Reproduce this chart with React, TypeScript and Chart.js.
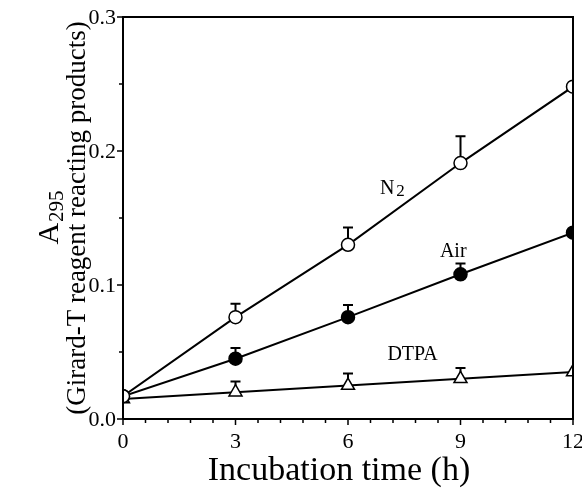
import React, { useEffect, useRef } from 'react';
import { Chart, registerables } from 'chart.js';

Chart.register(...registerables);

// ---- data ----
const times = [0, 3, 6, 9, 12];
const n2Values = [0.017, 0.076, 0.13, 0.191, 0.248];
const n2Errors = [0, 0.01, 0.013, 0.02, 0];
const airValues = [0.017, 0.045, 0.076, 0.108, 0.139];
const airErrors = [0, 0.008, 0.009, 0.008, 0];
const dtpaValues = [0.015, 0.02, 0.025, 0.03, 0.035];
const dtpaErrors = [0, 0.008, 0.009, 0.008, 0];

const xMajorTicks = [0, 3, 6, 9, 12];
const xTickLabels = ['0', '3', '6', '9', '12'];
const xMinorTicks = [0.6, 1.2, 1.8, 2.4, 3.6, 4.2, 4.8, 5.4, 6.6, 7.2, 7.8, 8.4, 9.6, 10.2, 10.8, 11.4];
const yMajorTicks = [0, 0.1, 0.2, 0.3];
const yTickLabels = ['0.0', '0.1', '0.2', '0.3'];
const yMinorTicks = [0.05, 0.15, 0.25];

const seriesLabels = [
  { main: 'N', sub: '2', x: 6.85, y: 0.172 },
  { main: 'Air', sub: '', x: 8.45, y: 0.125 },
  { main: 'DTPA', sub: '', x: 7.05, y: 0.048 },
];

const xTitle = 'Incubation time (h)';
const yTitleMain = 'A';
const yTitleSub = '295';
const yTitleLine2 = '(Girard-T reagent reacting products)';

const SERIF = '"Liberation Serif", "Times New Roman", serif';

const errorBarPlugin = {
  id: 'errorBars',
  beforeDatasetsDraw(chart: any) {
    const { ctx, scales } = chart;
    const xs = scales.x;
    const ys = scales.y;
    const sets = [
      { v: n2Values, e: n2Errors },
      { v: airValues, e: airErrors },
      { v: dtpaValues, e: dtpaErrors },
    ];
    ctx.save();
    ctx.strokeStyle = '#000';
    ctx.lineWidth = 2;
    sets.forEach((s) => {
      times.forEach((t, i) => {
        if (!s.e[i]) return;
        const px = xs.getPixelForValue(t);
        const y0 = ys.getPixelForValue(s.v[i]);
        const y1 = ys.getPixelForValue(s.v[i] + s.e[i]);
        ctx.beginPath();
        ctx.moveTo(px, y0);
        ctx.lineTo(px, y1);
        ctx.moveTo(px - 5, y1);
        ctx.lineTo(px + 5, y1);
        ctx.stroke();
      });
    });
    ctx.restore();
  },
};

const framePlugin = {
  id: 'frameAndText',
  afterDraw(chart: any) {
    const { ctx, chartArea, scales } = chart;
    const xs = scales.x;
    const ys = scales.y;
    const { left, right, top, bottom } = chartArea;
    ctx.save();
    ctx.strokeStyle = '#000';
    ctx.fillStyle = '#000';
    ctx.lineWidth = 2;
    // frame
    ctx.beginPath();
    ctx.moveTo(left, bottom);
    ctx.lineTo(left, top);
    ctx.lineTo(right, top);
    ctx.lineTo(right, bottom);
    ctx.lineTo(left, bottom);
    ctx.stroke();
    // ticks
    ctx.lineWidth = 1.5;
    ctx.beginPath();
    yMajorTicks.forEach((v) => {
      const py = ys.getPixelForValue(v);
      ctx.moveTo(left, py);
      ctx.lineTo(left - 6, py);
    });
    yMinorTicks.forEach((v) => {
      const py = ys.getPixelForValue(v);
      ctx.moveTo(left, py);
      ctx.lineTo(left - 4, py);
    });
    xMajorTicks.forEach((v) => {
      const px = xs.getPixelForValue(v);
      ctx.moveTo(px, bottom);
      ctx.lineTo(px, bottom + 6);
    });
    xMinorTicks.forEach((v) => {
      const px = xs.getPixelForValue(v);
      ctx.moveTo(px, bottom);
      ctx.lineTo(px, bottom + 4);
    });
    ctx.stroke();

    // tick labels
    ctx.font = `22px ${SERIF}`;
    ctx.textAlign = 'right';
    ctx.textBaseline = 'middle';
    yMajorTicks.forEach((v, i) => {
      ctx.fillText(yTickLabels[i], left - 7, ys.getPixelForValue(v) + 1);
    });
    ctx.textAlign = 'center';
    ctx.textBaseline = 'alphabetic';
    xMajorTicks.forEach((v, i) => {
      ctx.fillText(xTickLabels[i], xs.getPixelForValue(v), bottom + 29);
    });

    // x title
    ctx.font = `34px ${SERIF}`;
    ctx.textAlign = 'center';
    ctx.fillText(xTitle, 339, 480);

    // y title
    ctx.save();
    ctx.translate(0, (top + bottom) / 2);
    ctx.rotate(-Math.PI / 2);
    ctx.font = `27px ${SERIF}`;
    ctx.textAlign = 'center';
    ctx.fillText(yTitleLine2, 0, 85);
    ctx.font = `30px ${SERIF}`;
    const wA = ctx.measureText(yTitleMain).width;
    ctx.font = `21px ${SERIF}`;
    const wS = ctx.measureText(yTitleSub).width;
    const start = -(wA + wS) / 2;
    ctx.textAlign = 'left';
    ctx.font = `30px ${SERIF}`;
    ctx.fillText(yTitleMain, start, 58);
    ctx.font = `21px ${SERIF}`;
    ctx.fillText(yTitleSub, start + wA + 1, 63);
    ctx.restore();

    // series labels
    ctx.textBaseline = 'middle';
    seriesLabels.forEach((l) => {
      const px = xs.getPixelForValue(l.x);
      const py = ys.getPixelForValue(l.y);
      ctx.textAlign = 'left';
      ctx.font = `20px ${SERIF}`;
      ctx.fillText(l.main, px, py);
      if (l.sub) {
        const w = ctx.measureText(l.main).width;
        ctx.font = `17px ${SERIF}`;
        ctx.fillText(l.sub, px + w + 2, py + 3);
      }
    });
    ctx.restore();
  },
};

export default function App() {
  const ref = useRef<HTMLCanvasElement | null>(null);
  useEffect(() => {
    document.body.style.margin = '0';
    const canvas = ref.current;
    if (!canvas) return;
    const mk = (vals: number[]) => times.map((t, i) => ({ x: t, y: vals[i] }));
    const chart = new Chart(canvas, {
      type: 'line',
      data: {
        datasets: [
          {
            label: 'N2',
            data: mk(n2Values),
            borderColor: '#000',
            borderWidth: 2,
            pointStyle: 'circle',
            pointRadius: 6.5,
            pointBackgroundColor: '#fff',
            pointBorderColor: '#000',
            pointBorderWidth: 1.5,
          },
          {
            label: 'Air',
            data: mk(airValues),
            borderColor: '#000',
            borderWidth: 2,
            pointStyle: 'circle',
            pointRadius: 6.5,
            pointBackgroundColor: '#000',
            pointBorderColor: '#000',
            pointBorderWidth: 1.5,
          },
          {
            label: 'DTPA',
            data: mk(dtpaValues),
            borderColor: '#000',
            borderWidth: 2,
            pointStyle: 'triangle',
            pointRadius: 7.5,
            pointBackgroundColor: '#fff',
            pointBorderColor: '#000',
            pointBorderWidth: 1.5,
          },
        ],
      },
      options: {
        responsive: false,
        animation: false,
        devicePixelRatio: 1,
        layout: { padding: { top: 17, right: 9, left: 0, bottom: 0 } },
        plugins: { legend: { display: false }, tooltip: { enabled: false } },
        scales: {
          x: {
            type: 'linear',
            min: 0,
            max: 12,
            grid: { display: false },
            border: { display: false },
            ticks: { display: false },
            afterFit: (s: any) => {
              s.height = 69;
            },
          },
          y: {
            type: 'linear',
            min: 0,
            max: 0.3,
            grid: { display: false },
            border: { display: false },
            ticks: { display: false },
            afterFit: (s: any) => {
              s.width = 123;
            },
          },
        },
      },
      plugins: [errorBarPlugin, framePlugin],
    } as any);
    return () => chart.destroy();
  }, []);
  return (
    <div style={{ position: 'absolute', left: 0, top: 0, width: 582, height: 488, background: '#fff' }}>
      <canvas ref={ref} width={582} height={488} />
    </div>
  );
}
